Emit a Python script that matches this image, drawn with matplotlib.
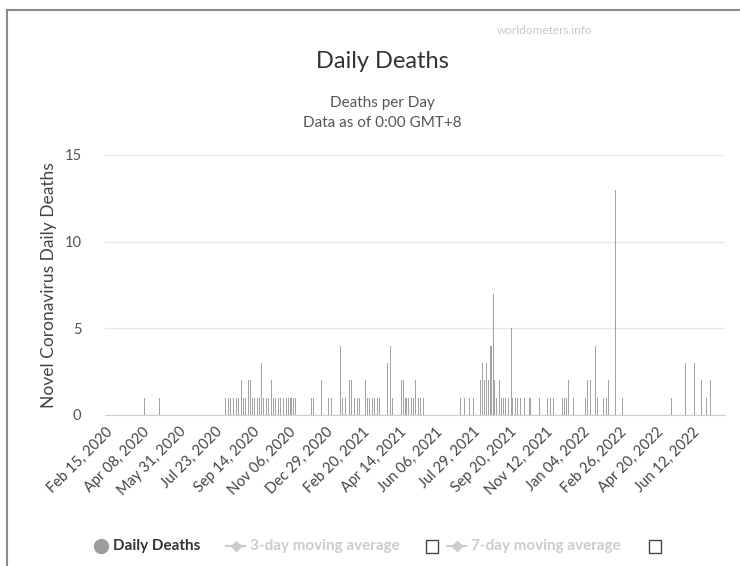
import matplotlib
matplotlib.use("Agg")
import matplotlib.pyplot as plt
from matplotlib.lines import Line2D
from matplotlib.patches import Rectangle
import pandas as pd
import numpy as np

plt.rcParams['font.family'] = ['Lato', 'DejaVu Sans']

# ---- data ----
start_date = "2020-02-15"
end_date = "2022-07-28"
death_dates = [
    "2020-04-12", "2020-05-03",
    "2020-08-07", "2020-08-11", "2020-08-14", "2020-08-18", "2020-08-22", "2020-08-25",
    "2020-08-29", "2020-09-01", "2020-09-05", "2020-09-08", "2020-09-11", "2020-09-15",
    "2020-09-18", "2020-09-21", "2020-09-24", "2020-09-27", "2020-09-30", "2020-10-04",
    "2020-10-07", "2020-10-12", "2020-10-15", "2020-10-18", "2020-10-22", "2020-10-25",
    "2020-10-29", "2020-11-02", "2020-11-05", "2020-11-09", "2020-11-13", "2020-11-16",
    "2020-12-08", "2020-12-11", "2020-12-23",
    "2021-01-02", "2021-01-07", "2021-01-19", "2021-01-22", "2021-01-26", "2021-02-01",
    "2021-02-05", "2021-02-09", "2021-02-13", "2021-02-16", "2021-02-24", "2021-02-27",
    "2021-03-03", "2021-03-06", "2021-03-10", "2021-03-14", "2021-03-17", "2021-03-28",
    "2021-04-01", "2021-04-05", "2021-04-18", "2021-04-21", "2021-04-24", "2021-04-28",
    "2021-05-02", "2021-05-05", "2021-05-08", "2021-05-12", "2021-05-15", "2021-05-19",
    "2021-07-11", "2021-07-17", "2021-07-24", "2021-07-31",
    "2021-08-09", "2021-08-12", "2021-08-15", "2021-08-18", "2021-08-21", "2021-08-24",
    "2021-08-26", "2021-08-28", "2021-08-30", "2021-09-02", "2021-09-06", "2021-09-09",
    "2021-09-12", "2021-09-15", "2021-09-19", "2021-09-23", "2021-09-25", "2021-09-29",
    "2021-10-02", "2021-10-06", "2021-10-12", "2021-10-20", "2021-11-03", "2021-11-14",
    "2021-11-18", "2021-11-23", "2021-12-06", "2021-12-09", "2021-12-12", "2021-12-15",
    "2021-12-22",
    "2022-01-08", "2022-01-11", "2022-01-15", "2022-01-22", "2022-01-25", "2022-02-03",
    "2022-02-07", "2022-02-10", "2022-02-20", "2022-03-02", "2022-05-12", "2022-06-02",
    "2022-06-15", "2022-06-24", "2022-07-02", "2022-07-07",
]
death_counts = [
    1, 1,
    1, 1, 1, 1, 1, 1,
    2, 1, 1, 2, 2, 1,
    1, 1, 1, 3, 1, 1,
    1, 2, 1, 1, 1, 1,
    1, 1, 1, 1, 1, 1,
    1, 1, 2,
    1, 1, 4, 1, 1, 2,
    2, 1, 1, 1, 2, 1,
    1, 1, 1, 1, 1, 3,
    4, 1, 2, 2, 1, 1,
    1, 1, 2, 1, 1, 1,
    1, 1, 1, 1,
    2, 3, 2, 3, 2, 4,
    4, 7, 2, 1, 2, 1,
    1, 1, 1, 5, 1, 1,
    1, 1, 1, 1, 1, 1,
    1, 1, 1, 1, 1, 2,
    1,
    1, 2, 2, 4, 1, 1,
    1, 2, 13, 1, 1, 3,
    3, 2, 1, 2,
]
tick_every = 53
y_ticks = [0, 5, 10, 15]

# ---- build daily series ----
days = pd.date_range(start_date, end_date, freq="D")
series = pd.Series(0, index=days)
series.loc[pd.to_datetime(death_dates)] = death_counts
labels = [d.strftime("%b %d, %Y") for d in days]
pos = np.arange(len(days))

W, H = 740, 566
fig = plt.figure(figsize=(W / 100, H / 100), dpi=100)
fig.patch.set_facecolor("white")

ax = fig.add_axes([105 / W, 1 - 415 / H, (725 - 105) / W, (415 - 155) / H])
ax.bar(pos, series.values, width=1.5, color="#a3a3a3", edgecolor="none", zorder=3)
ax.set_xlim(-0.5, len(days) - 0.5)
ax.set_ylim(0, 15)
ax.set_yticks(y_ticks)
ax.yaxis.grid(True, color="#e8e8e8", linewidth=1, zorder=0)
ax.set_axisbelow(True)
for s in ["top", "right", "left"]:
    ax.spines[s].set_visible(False)
ax.spines["bottom"].set_color("#d0d0d0")
ax.tick_params(axis="y", length=0, labelsize=10.5, colors="#555555", pad=17)
ax.tick_params(axis="x", length=0, labelsize=10.5, colors="#444444", pad=7)
tick_pos = pos[::tick_every]
ax.set_xticks(tick_pos)
ax.set_xticklabels([labels[i] for i in tick_pos], rotation=45, ha="right",
                   rotation_mode="anchor")
ax.set_ylabel("Novel Coronavirus Daily Deaths", fontsize=12.5, color="#444444", labelpad=5)

# titles
fig.text(382 / W, 1 - 62 / H, "Daily Deaths", ha="center", va="center",
         fontsize=17, color="#333333")
fig.text(382 / W, 1 - 103 / H, "Deaths per Day", ha="center", va="center",
         fontsize=11, color="#555555")
fig.text(382 / W, 1 - 123 / H, "Data as of 0:00 GMT+8", ha="center", va="center",
         fontsize=11, color="#555555")
fig.text(545 / W, 1 - 30 / H, "worldometers.info", ha="center", va="center",
         fontsize=8.5, color="#c8c8c8")

# frame lines
fig.add_artist(Line2D([7 / W, 1], [1 - 10 / H, 1 - 10 / H], color="#8a8a8a", lw=1.5))
fig.add_artist(Line2D([7 / W, 7 / W], [0, 1 - 10 / H], color="#8a8a8a", lw=1.5))

# legend
ly = 1 - 546 / H
fig.add_artist(Line2D([101 / W], [ly], marker="o", markersize=10,
                      color="#9c9c9c", lw=0))
fig.text(113 / W, ly, "Daily Deaths", ha="left", va="center", fontsize=11,
         color="#333333", fontweight="bold")
for x0, txt, bx in [(226, "3-day moving average", 432), (447, "7-day moving average", 655)]:
    fig.add_artist(Line2D([x0 / W, (x0 + 19) / W], [ly, ly], color="#cccccc", lw=1.5))
    fig.add_artist(Line2D([(x0 + 9.5) / W], [ly], marker="D", markersize=5,
                          color="#cccccc", lw=0))
    fig.text((x0 + 24) / W, ly, txt, ha="left", va="center", fontsize=11,
             color="#cccccc", fontweight="bold")
    fig.add_artist(Rectangle(((bx - 6) / W, ly - 6.5 / H), 12 / W, 13 / H,
                             transform=fig.transFigure, facecolor="white",
                             edgecolor="#444444", lw=1))

fig.savefig("out.png", dpi=100, facecolor="white")
